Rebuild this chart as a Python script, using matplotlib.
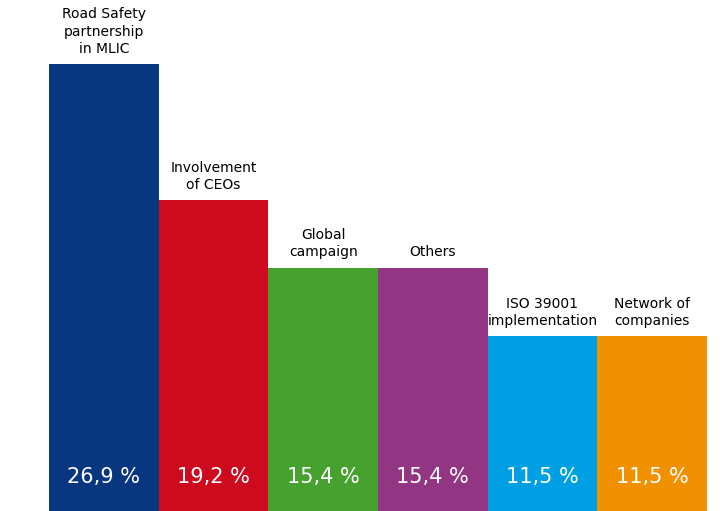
import matplotlib.pyplot as plt

categories = [
    "Road Safety\npartnership\nin MLIC",
    "Involvement\nof CEOs",
    "Global\ncampaign",
    "Others",
    "ISO 39001\nimplementation",
    "Network of\ncompanies",
]
shares = [26.9, 19.2, 15.4, 15.4, 11.5, 11.5]
value_labels = ["26,9 %", "19,2 %", "15,4 %", "15,4 %", "11,5 %", "11,5 %"]
colors = ["#08367F", "#CE0A1F", "#47A12E", "#923582", "#009FE3", "#F29100"]


def main() -> None:
    fig = plt.figure(figsize=(7.23, 5.11), dpi=100)
    ax = fig.add_axes([49 / 723, 0.0, 658 / 723, 1.0])

    x = list(range(len(shares)))
    ax.bar(x, shares, width=1.0, align="edge", color=colors, bottom=0)

    for i, (v, cat, lab) in enumerate(zip(shares, categories, value_labels)):
        ax.annotate(
            cat,
            xy=(i + 0.5, v),
            xytext=(0, 6),
            textcoords="offset points",
            ha="center",
            va="bottom",
            fontsize=10,
            color="black",
            linespacing=1.3,
        )
        ax.text(
            i + 0.5,
            0.067,
            lab,
            transform=ax.get_xaxis_transform(),
            ha="center",
            va="center",
            fontsize=15,
            color="white",
        )

    ax.set_xlim(0, len(shares))
    ax.set_ylim(1.63, 30.53)
    ax.axis("off")

    fig.savefig("out.png", dpi=100)


if __name__ == "__main__":
    main()
